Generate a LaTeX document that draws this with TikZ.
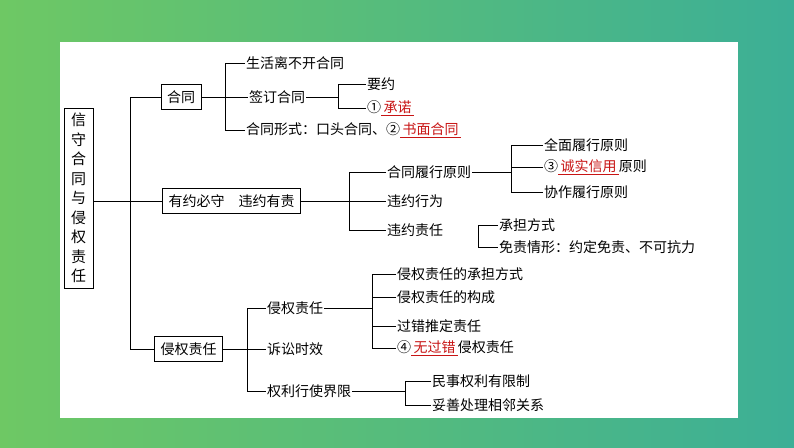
\documentclass[tikz,border=0pt]{standalone}
\usepackage{fontspec}
\setmainfont{Noto Sans CJK SC}
\usetikzlibrary{positioning}
\definecolor{bgleft}{RGB}{110,200,100}
\definecolor{bgright}{RGB}{60,175,150}
\definecolor{redtxt}{RGB}{200,20,20}

\tikzset{
  item/.style={anchor=west, inner sep=1pt, font=\fontsize{14}{16}\selectfont},
  topic/.style={draw, thick, inner sep=6pt, font=\fontsize{14}{16}\selectfont},
  link/.style={thick}
}
\newcommand{\fillin}[1]{{\color{redtxt}\underline{\,#1\,}}}

\begin{document}
\begin{tikzpicture}[x=1pt,y=-1pt]

%================ BACKGROUND ==================
\shade[left color=bgleft, right color=bgright] (0,0) rectangle (794,447);
\fill[white] (60,42) rectangle (738,418);

%================ ROOT ==================
\node[draw, thick, minimum width=29, minimum height=180, inner sep=1pt,
      align=center, font=\fontsize{15}{19.5}\selectfont] (root) at (78.5,198)
  {信\\守\\合\\同\\与\\侵\\权\\责\\任};

%================ TOPICS ==================
\node[topic] (ht) at (181,97) {合同};
\node[topic] (yy) at (231.5,201) {有约必守\quad 违约有责};
\node[topic] (qq) at (188.5,349) {侵权责任};

\draw[link] (root.east |- yy.west) -- (yy.west);
\draw[link] (ht.west) -- ++(-30,0) |- (qq.west);

%================ 合同 ==================
\node[item] (ht1) at (245,63) {生活离不开合同};
\node[item] (ht2) at (248,97) {签订合同};
\node[item] (ht3) at (245,130) {合同形式：口头合同、②\fillin{书面合同}};
\draw[link] (ht.east) -- (ht2.west);
\draw[link] (ht1.west) -- ++(-20,0) |- (ht3.west);

\node[item] (yy1) at (366,84) {要约};
\node[item] (yy2) at (366,108) {①\fillin{承诺}};
\draw[link] (ht2.east) -- (338,97);
\draw[link] (yy1.west) -- ++(-28,0) |- (yy2.west);

%================ 有约必守 ==================
\node[item] (lx) at (386,172) {合同履行原则};
\node[item] (wx) at (386,201) {违约行为};
\node[item] (wz) at (386,230) {违约责任};
\draw[link] (yy.east) -- (wx.west);
\draw[link] (lx.west) -- ++(-37,0) |- (wz.west);

\node[item] (lx1) at (543,145) {全面履行原则};
\node[item] (lx2) at (543,167) {③\fillin{诚实信用}原则};
\node[item] (lx3) at (543,192) {协作履行原则};
\draw[link] (lx.east) -- (511,172);
\draw[link] (lx1.west) -- ++(-32,0) |- (lx3.west);
\draw[link] (511,167) -- (lx2.west);

\node[item] (wz1) at (498,225) {承担方式};
\node[item] (wz2) at (498,247) {免责情形：约定免责、不可抗力};
\draw[link] (wz1.west) -- ++(-20,0) |- (wz2.west);

%================ 侵权责任 ==================
\node[item] (qz) at (266,308) {侵权责任};
\node[item] (ss) at (266,349) {诉讼时效};
\node[item] (jx) at (266,391) {权利行使界限};
\draw[link] (qq.east) -- (ss.west);
\draw[link] (qz.west) -- ++(-19,0) |- (jx.west);

\node[item] (qz1) at (396,274) {侵权责任的承担方式};
\node[item] (qz2) at (396,297) {侵权责任的构成};
\node[item] (qz3) at (396,326) {过错推定责任};
\node[item] (qz4) at (396,348) {④\fillin{无过错}侵权责任};
\draw[link] (qz.east) -- (372,308);
\draw[link] (qz1.west) -- ++(-24,0) |- (qz4.west);
\draw[link] (qz2.west) -- ++(-24,0);
\draw[link] (qz3.west) -- ++(-24,0);

\node[item] (jx1) at (431,381) {民事权利有限制};
\node[item] (jx2) at (431,405) {妥善处理相邻关系};
\draw[link] (jx.east) -- (405,391);
\draw[link] (jx1.west) -- ++(-26,0) |- (jx2.west);

\end{tikzpicture}
\end{document}
